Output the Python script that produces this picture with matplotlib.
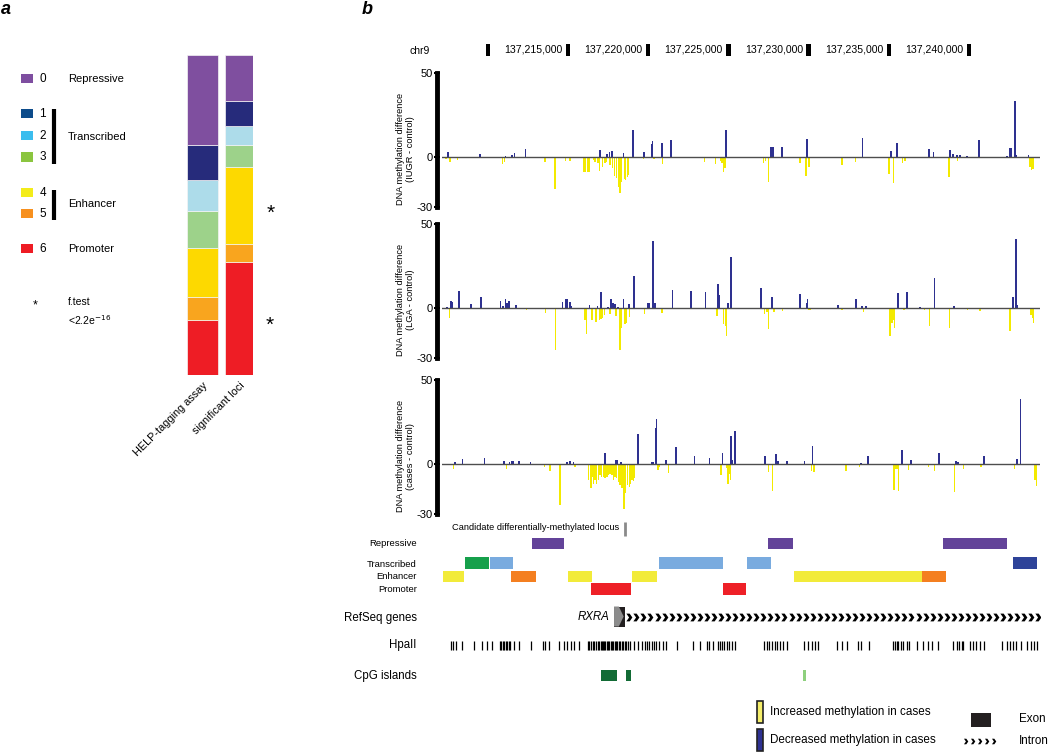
import numpy as np
import matplotlib
matplotlib.use('Agg')
import matplotlib.pyplot as plt
from matplotlib.patches import Rectangle, Polygon
from matplotlib.path import Path
import matplotlib.transforms as mtransforms

plt.rcParams['font.family'] = ['Liberation Sans', 'DejaVu Sans']
plt.rcParams['axes.unicode_minus'] = False

# ---------------- data: panel a ----------------
states = ['0', '1', '2', '3', '4', '5', '6']
help_pct = [28.1, 10.9, 9.7, 11.6, 15.3, 7.2, 17.2]
sig_pct = [14.4, 7.8, 5.9, 6.9, 24.1, 5.6, 35.3]
bar_labels = ['HELP-tagging assay', 'significant loci']
group_labels = ['Repressive', 'Transcribed', 'Enhancer', 'Promoter']

# ---------------- data: panel b (positions in kb on chr9) ----------------
ruler_ticks = [137210, 137215, 137220, 137225, 137230, 137235, 137240]
ruler_labels = ['', '137,215,000', '137,220,000', '137,225,000', '137,230,000', '137,235,000', '137,240,000']

iugr_pos = [137207.52, 137209.5, 137211.1, 137211.48, 137211.64, 137212.35, 137216.99, 137217.44, 137217.59, 137217.72,
            137218.44, 137219.05, 137219.73, 137220.21, 137220.25, 137220.84, 137221.43, 137224.85, 137227.64, 137227.76,
            137228.32, 137229.88, 137233.37, 137235.12, 137235.5, 137237.49, 137237.78, 137238.82, 137238.99, 137239.26,
            137239.45, 137239.86, 137240.61, 137242.36, 137242.52, 137242.61, 137242.88, 137242.94, 137243.71,
            137207.38, 137207.63, 137208.11, 137208.88, 137210.89, 137211.02, 137213.56, 137214.18, 137214.6, 137214.85,
            137215.12, 137215.99, 137216.09, 137216.22, 137216.3, 137216.57, 137216.68, 137216.86, 137216.95, 137217.13,
            137217.3, 137217.4, 137217.61, 137217.75, 137217.88, 137218.0, 137218.13, 137218.23, 137218.34, 137218.5,
            137218.57, 137218.69, 137218.78, 137219.69, 137220.36, 137220.87, 137223.49, 137224.2, 137224.52, 137224.6,
            137224.68, 137224.79, 137227.17, 137227.32, 137227.49, 137229.46, 137229.84, 137230.01, 137232.07, 137232.91,
            137235.02, 137235.28, 137235.85, 137236.01, 137236.84, 137237.12, 137238.76, 137239.28, 137243.81, 137243.9,
            137244.0]
iugr_val = [3, 1.4, 0.6, 1.2, 2.2, 4.9, 3.9, 1.6, 2.6, 3.7,
            2, 16.2, 3, 7.5, 9.5, 8.5, 10, 16, 6, 6,
            6, 10.8, 11.4, 3.3, 8.5, 4.9, 2.6, 4, 1.6, 1,
            1.2, 0.6, 10, 0.6, 5, 5, 33, 1.2, 1.2,
            -1.4, -3.3, -2, -0.4, -4.3, -3, -3.3, -19, -1, -2.4,
            -2.8, -9.3, -9.3, -9, -9, -2, -3, -4, -8.3, -6,
            -4, -3.3, -5, -7, -11.6, -12.5, -18, -21.7, -15, -13,
            -13.6, -12, -11, -1.4, -1.4, -4.3, -3.3, -4.3, -2.5, -4,
            -9.3, -6.5, -3.7, -2.5, -15, -4, -11.2, -6.3, -4.7, -3.3,
            -10.2, -15.7, -3.7, -2.3, -0.8, -1, -12, -2.7, -6, -8,
            -7.5]

lga_pos = [137207.46, 137207.69, 137207.75, 137208.19, 137208.94, 137209.56, 137210.79, 137210.95, 137211.1, 137211.17,
           137211.29, 137211.33, 137211.73, 137214.64, 137214.87, 137214.91, 137215.13, 137215.2, 137216.32, 137216.82,
           137217.03, 137217.5, 137217.67, 137217.78, 137217.86, 137217.92, 137218.09, 137218.44, 137218.78, 137219.09,
           137219.94, 137220.03, 137220.25, 137220.29, 137220.4, 137221.5, 137222.66, 137223.56, 137224.35, 137224.41,
           137224.97, 137225.16, 137227.01, 137227.72, 137229.46, 137229.88, 137229.94, 137231.82, 137232.96, 137233.31,
           137233.58, 137235.58, 137236.12, 137236.95, 137237.84, 137239.07, 137242.73, 137242.94, 137243.02,
           137207.59, 137210.64, 137212.41, 137213.24, 137213.6, 137214.22, 137216.05, 137216.16, 137216.49, 137216.74,
           137216.94, 137217.05, 137217.13, 137217.26, 137217.61, 137217.97, 137218.23, 137218.32, 137218.55, 137218.65,
           137218.81, 137219.75, 137220.48, 137220.85, 137224.27, 137224.68, 137224.8, 137224.89, 137227.24, 137227.39,
           137227.49, 137227.84, 137228.36, 137229.98, 137230.09, 137232.07, 137233.41, 137235.08, 137235.19, 137235.28,
           137235.34, 137235.95, 137237.22, 137237.55, 137238.8, 137239.34, 137239.9, 137240.42, 137240.69, 137242.56,
           137243.86, 137243.96, 137244.02]
lga_val = [0.5, 4, 3.6, 10, 2, 6.5, 4, 1, 5.3, 2.5,
           3.7, 3.7, 1.8, 3.5, 5.3, 5.3, 3.5, 1.2, 1.8, 0.8,
           9, 0.6, 4.9, 2.5, 2.3, 2, 0.6, 4.9, 2, 18.8,
           2.9, 2.9, 32.5, 39.8, 2.5, 10.6, 10, 9.4, 14.3, 7.3,
           2.9, 30, 11.8, 6.5, 8, 2.9, 4.9, 1.8, 5.3, 1.2,
           0.8, 8.4, 9, 0.6, 17.3, 1.2, 6.1, 40.8, 1.4,
           -6, -0.6, -1.4, -0.8, -3, -25, -7.3, -16, -7.6, -8.6,
           -7.6, -6.9, -6.3, -4.3, -3.7, -4.9, -25, -12, -9.8, -9,
           -5.7, -4, -1, -3, -5.3, -9.8, -11, -17, -3.7, -2.5,
           -12.5, -2.5, -1.8, -1.2, -1.2, -1.4, -2.5, -16.7, -9.2, -7.5,
           -12, -1.4, -1.4, -11, -12, -0.6, -1.4, -0.6, -1.8, -13.7,
           -4.3, -6.3, -9.2]

cases_pos = [137207.94, 137208.42, 137209.77, 137211.0, 137211.33, 137211.5, 137211.56, 137211.95, 137212.66, 137214.91,
             137215.12, 137215.32, 137217.3, 137217.97, 137218.03, 137218.3, 137219.36, 137220.21, 137220.29, 137220.46,
             137220.52, 137221.1, 137221.73, 137222.87, 137223.81, 137224.62, 137225.16, 137225.24, 137225.39, 137227.28,
             137227.95, 137228.07, 137228.65, 137229.73, 137230.23, 137233.27, 137233.71, 137235.83, 137236.37, 137238.12,
             137239.18, 137239.3, 137240.94, 137243.0, 137243.21,
             137207.84, 137211.17, 137213.51, 137213.87, 137214.49, 137215.43, 137216.26, 137216.41, 137216.51, 137216.57,
             137216.68, 137216.78, 137216.88, 137216.99, 137217.09, 137217.19, 137217.3, 137217.41, 137217.51, 137217.61,
             137217.72, 137217.82, 137217.92, 137218.03, 137218.13, 137218.23, 137218.36, 137218.48, 137218.59, 137218.69,
             137218.81, 137218.9, 137218.98, 137219.06, 137219.15, 137220.0, 137220.59, 137220.69, 137221.25, 137224.52,
             137224.89, 137224.97, 137225.06, 137225.14, 137227.49, 137227.74, 137230.19, 137230.34, 137232.33, 137233.16,
             137235.33, 137235.41, 137235.5, 137235.62, 137236.22, 137237.47, 137237.84, 137239.09, 137239.65, 137240.17,
             137240.74, 137242.83, 137244.12, 137244.2]
cases_val = [1.2, 2.7, 3.3, 1.6, 0.8, 1.4, 1.4, 1.4, 1, 1,
             1.4, 0.8, 6.5, 2.5, 2.5, 1, 17.6, 0.8, 0.8, 21.6,
             26.9, 2.4, 9.8, 4.9, 3.3, 6.3, 16.7, 2.4, 19.6, 4.9,
             5.9, 1.4, 1.4, 1.4, 10.4, 0.6, 4.9, 8.4, 2.4, 6.5,
             1.4, 1, 4.5, 2.9, 38.8,
             -3, -3, -2, -4.5, -24.8, -2, -9.8, -14.7, -7.8, -11.8,
             -9.8, -11.8, -9.8, -6.9, -7.8, -7.8, -8.8, -7.8, -6.9, -5.9,
             -6.9, -9.8, -7.8, -8.8, -10.8, -12.7, -14.7, -27, -17.6, -12.7,
             -13.7, -11.8, -9.8, -10.2, -8.8, -1, -3.5, -2, -5.3, -6.5,
             -2.5, -11.8, -6, -9.8, -4.9, -16.3, -4.3, -5, -4.5, -2,
             -15.7, -3, -3, -16.3, -3.5, -2, -4.5, -16.7, -3.3, -1,
             -2, -3, -10, -13]

panel_names = ['(IUGR - control)', '(LGA - control)', '(cases - control)']

# chromatin state segments (kb)
rep_start = [137212.77, 137227.49, 137238.40]
rep_end = [137214.77, 137229.01, 137242.38]
tx_start = [137208.57, 137210.12, 137220.69, 137226.18, 137242.73]
tx_end = [137210.08, 137211.58, 137224.68, 137227.67, 137244.23]
tx_state = [3, 2, 2, 2, 1]
enh_start = [137207.19, 137211.43, 137214.99, 137219.00, 137229.11, 137237.09]
enh_end = [137208.48, 137212.98, 137216.51, 137220.52, 137237.09, 137238.57]
enh_state = [4, 5, 4, 4, 4, 5]
prom_start = [137216.43, 137224.66]
prom_end = [137218.92, 137226.11]

gene_name = 'RXRA'
exon_start, exon_end = 137217.86, 137218.55
intron_end = 137244.40
candidate_locus = 137218.53

hpa_sites = [207.71, 207.80, 207.98, 208.40, 209.13, 209.65, 209.94, 210.25, 210.73, 210.81, 210.92, 211.0, 211.10,
             211.19, 211.29, 211.39, 211.64, 211.91, 212.68, 213.45, 213.56, 213.81, 214.41, 214.76, 214.95, 215.18,
             215.35, 215.70, 216.22, 216.32, 216.43, 216.53, 216.63, 216.74, 216.84, 216.94, 217.03, 217.09, 217.15,
             217.24, 217.32, 217.41, 217.49, 217.57, 217.66, 217.74, 217.82, 217.91, 217.99, 218.07, 218.16, 218.24,
             218.33, 218.42, 218.52, 218.62, 218.73, 218.83, 219.13, 219.38, 219.59, 219.78, 219.90, 220.06, 220.23,
             220.36, 220.48, 220.65, 220.94, 221.10, 221.77, 222.81, 223.23, 223.64, 223.79, 224.06, 224.37, 224.47,
             224.58, 224.72, 224.89, 225.03, 225.20, 225.39, 227.22, 227.39, 227.55, 227.72, 227.88, 228.05, 228.22,
             228.38, 228.63, 229.71, 229.98, 230.23, 230.40, 230.61, 231.75, 232.07, 232.38, 233.10, 233.27, 233.77,
             235.28, 235.39, 235.50, 235.60, 235.75, 235.91, 236.12, 236.28, 236.74, 237.16, 237.43, 237.72, 238.09,
             239.03, 239.24, 239.40, 239.55, 239.65, 240.07, 240.24, 240.44, 240.69, 240.94, 242.05, 242.36, 242.56,
             242.73, 242.94, 243.23, 243.61, 243.86, 244.06, 244.23]
hpa_sites = [137000 + h for h in hpa_sites]

cpg_start = [137217.03, 137218.61, 137229.63]
cpg_end = [137218.07, 137218.92, 137229.84]
cpg_color = ['#126B35', '#126B35', '#8ED07E']

# ---------------- style ----------------
stack_colors = {0: '#7F4F9F', 1: '#262B7B', 2: '#ADDCEA', 3: '#9DD28A', 4: '#FDD900', 5: '#F9A51E', 6: '#EE1D25'}
legend_colors = ['#7E4EA0', '#0D4C8B', '#3BBDEE', '#8BC53F', '#F3EC1A', '#F7901E', '#EE1C24']
track_colors = {1: '#2E4399', 2: '#79ABDF', 3: '#16A04B', 4: '#F2EB3A', 5: '#F47F20'}
BLUE = '#2E3190'
YELLOW = '#F3EA00'

W, H = 1050, 752
fig = plt.figure(figsize=(10.5, 7.52), dpi=100)
XL = (137207.13, 137244.43)


def px_axes(x0, y0, x1, y1):
    ax = fig.add_axes([x0 / W, 1 - y1 / H, (x1 - x0) / W, (y1 - y0) / H])
    ax.patch.set_visible(False)
    return ax


# bold chevron glyph for introns
chev = Path([(-0.55, -1), (0.3, -1), (1.0, 0), (0.3, 1), (-0.55, 1), (0.15, 0), (-0.55, -1)],
            [Path.MOVETO] + [Path.LINETO] * 5 + [Path.CLOSEPOLY])

# overlay for annotations
ov = px_axes(0, 0, W, H)
ov.set_xlim(0, W)
ov.set_ylim(H, 0)
ov.axis('off')

# ---------- panel a ----------
ov.text(1, 9, 'a', fontsize=13, fontweight='bold', fontstyle='italic', va='center')
leg_y = [78.7, 113.7, 135.3, 157, 192.3, 213.3, 248.7]
for i, s in enumerate(states):
    ov.add_patch(Rectangle((21, leg_y[i] - 4.7), 12.3, 9.4, color=legend_colors[i], lw=0))
    ov.text(42.5, leg_y[i] + 0.5, s, ha='center', va='center', fontsize=8.5)
for name, y in zip(group_labels, [78.7, 136.7, 204, 249.3]):
    ov.text(67.7, y, name, ha='left', va='center', fontsize=8)
ov.plot([54, 54], [109, 164], color='k', lw=3, solid_capstyle='butt')
ov.plot([54, 54], [190, 220], color='k', lw=3, solid_capstyle='butt')
ov.text(35, 305, '*', ha='center', va='center', fontsize=9)
ov.text(67.7, 302, 'f.test', ha='left', va='center', fontsize=7.5)
ov.text(67.7, 320, r'<2.2e$^{-16}$', ha='left', va='center', fontsize=7.5)

axa = px_axes(186.7, 55, 253.3, 375)
bottoms = np.zeros(2)
for s in [6, 5, 4, 3, 2, 1, 0]:
    vals = np.array([help_pct[s], sig_pct[s]])
    axa.bar([0, 1], vals, width=[0.87, 0.78], bottom=bottoms, color=stack_colors[s],
            edgecolor='#f4f4f4', linewidth=0.5)
    bottoms += vals
axa.set_xlim(-0.435, 1.39)
axa.set_ylim(0, 100)
for sp in axa.spines.values():
    sp.set_visible(False)
axa.set_yticks([])
axa.set_xticks([0, 1])
axa.set_xticklabels(bar_labels, rotation=45, ha='right', rotation_mode='anchor', fontsize=7.8)
axa.tick_params(axis='x', length=0, pad=4)
ov.text(271, 213, '*', ha='center', va='center', fontsize=15)
ov.text(270, 325, '*', ha='center', va='center', fontsize=15)

# ---------- panel b ----------
ov.text(362, 9, 'b', fontsize=13, fontweight='bold', fontstyle='italic', va='center')
ov.text(420, 51, 'chr9', ha='center', va='center', fontsize=7.5)

axr = px_axes(442, 44, 1040, 56)
axr.bar(ruler_ticks, [1] * len(ruler_ticks), width=0.27, color='k', align='center')
for t, lab in zip(ruler_ticks, ruler_labels):
    if lab:
        axr.text(t - 0.35, 0.5, lab, ha='right', va='center', fontsize=7.6)
axr.set_xlim(*XL)
axr.set_ylim(0, 1)
axr.axis('off')

panel_px = [(73, 207), (223.5, 358), (380, 514)]
series = [(iugr_pos, iugr_val), (lga_pos, lga_val), (cases_pos, cases_val)]
for (top, bot), (pos, val), name in zip(panel_px, series, panel_names):
    ax = px_axes(442, top, 1040, bot)
    pos = np.array(pos)
    val = np.array(val)
    up = val > 0
    ax.bar(pos[up], val[up], width=0.1, color=BLUE, linewidth=0, antialiased=False)
    ax.bar(pos[~up], val[~up], width=0.09, color=YELLOW, linewidth=0, antialiased=False)
    ax.axhline(0, color='#4d4d4d', lw=1)
    ax.set_xlim(*XL)
    ax.set_ylim(-30, 50)
    for k in ['top', 'right', 'bottom']:
        ax.spines[k].set_visible(False)
    ax.spines['left'].set_linewidth(3.5)
    ax.spines['left'].set_position(('outward', 3.5))
    ax.set_xticks([])
    ax.set_yticks([-30, 0, 50])
    ax.tick_params(axis='y', direction='inout', length=4, width=1.5, labelsize=8, pad=1)
    ax.text(-0.061, 0.43, 'DNA methylation difference\n' + name, rotation=90, ha='center', va='center',
            fontsize=6.7, linespacing=1.15, transform=ax.transAxes)

# tracks
axt = px_axes(442, 515, 1040, 690)
axt.set_xlim(*XL)
axt.set_ylim(690, 515)
axt.axis('off')
lab_tr = mtransforms.blended_transform_factory(axt.transAxes, axt.transData)
LX = -0.0423

axt.vlines(candidate_locus, 522, 536, color='#8a8a8a', lw=2)
axt.text(candidate_locus - 0.35, 527.5, 'Candidate differentially-methylated locus', ha='right', va='center',
         fontsize=6.7)

axt.broken_barh([(s, e - s) for s, e in zip(rep_start, rep_end)], (537.8, 11.5), facecolors='#634399')
axt.text(LX, 543.5, 'Repressive', transform=lab_tr, ha='right', va='center', fontsize=6.8)
axt.broken_barh([(s, e - s) for s, e in zip(tx_start, tx_end)], (557.3, 11.7),
                facecolors=[track_colors[k] for k in tx_state])
axt.text(LX, 564.3, 'Transcribed', transform=lab_tr, ha='right', va='center', fontsize=6.8)
axt.broken_barh([(s, e - s) for s, e in zip(enh_start, enh_end)], (570.8, 11.5),
                facecolors=[track_colors[k] for k in enh_state])
axt.text(LX, 576.7, 'Enhancer', transform=lab_tr, ha='right', va='center', fontsize=6.8)
axt.broken_barh([(s, e - s) for s, e in zip(prom_start, prom_end)], (583.3, 11.7), facecolors='#EE2027')
axt.text(LX, 589, 'Promoter', transform=lab_tr, ha='right', va='center', fontsize=6.8)

# RefSeq gene
axt.text(LX, 617.7, 'RefSeq genes', transform=lab_tr, ha='right', va='center', fontsize=8.3)
axt.add_patch(Rectangle((exon_start, 606.5), exon_end - exon_start, 20, color='#231F20', lw=0))
axt.add_patch(Polygon([(exon_start, 606.5), (exon_start + 0.3, 606.5), (exon_start + 0.6, 616.5),
                       (exon_start + 0.3, 626.5), (exon_start, 626.5)], closed=True, color='#8C8C8C', lw=0))
axt.text(exon_start - 0.3, 617, gene_name, ha='right', va='center', fontsize=8.3, fontstyle='italic')
chev_x = np.arange(exon_end + 0.2, intron_end, 0.44)
axt.plot(chev_x, np.full(chev_x.shape, 617.0), linestyle='none', marker=chev, markersize=5.6,
         color='k', markeredgewidth=0)

# HpaII
axt.text(LX, 645, 'HpaII', transform=lab_tr, ha='right', va='center', fontsize=8.3)
axt.vlines(hpa_sites, 641, 649.5, color='k', lw=0.9)

# CpG islands
axt.text(LX, 675.5, 'CpG islands', transform=lab_tr, ha='right', va='center', fontsize=8.3)
axt.broken_barh([(s, e - s) for s, e in zip(cpg_start, cpg_end)], (670.3, 10.4), facecolors=cpg_color)

# bottom legend
ov.add_patch(Rectangle((757, 700.5), 6, 22, facecolor='#F5EE6A', edgecolor='#222222', lw=1.2))
ov.text(770, 712.5, 'Increased methylation in cases', ha='left', va='center', fontsize=8.4)
ov.add_patch(Rectangle((757, 728.5), 6, 22, facecolor='#2E3192', edgecolor='#222222', lw=1.2))
ov.text(770, 740.5, 'Decreased methylation in cases', ha='left', va='center', fontsize=8.4)
ov.add_patch(Rectangle((970.7, 713), 20, 14, color='#231F20', lw=0))
ov.text(1019, 719.5, 'Exon', ha='left', va='center', fontsize=8.4)
ov.plot(np.linspace(965, 993, 5), np.full(5, 741), linestyle='none', marker=chev, markersize=4,
        color='k', markeredgewidth=0)
ov.text(1019, 741, 'Intron', ha='left', va='center', fontsize=8.4)

fig.savefig('out.png', dpi=100)
